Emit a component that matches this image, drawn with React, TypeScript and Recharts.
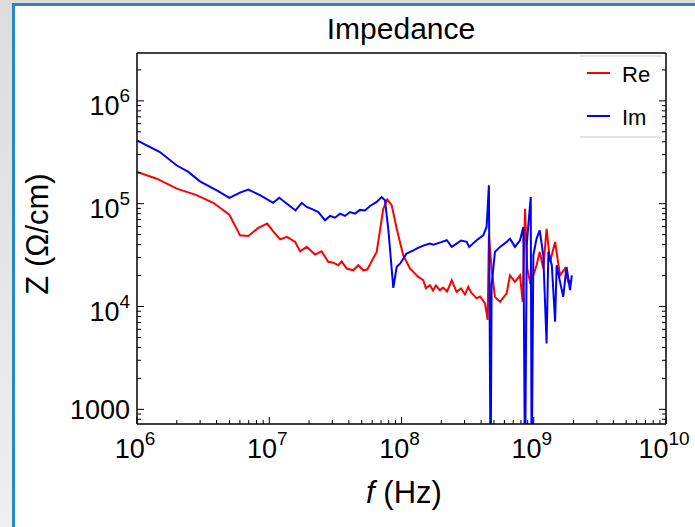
import React from 'react';
import { LineChart, Line, XAxis, YAxis } from 'recharts';

// frequency (Hz) and impedance (Ohm/cm)
const reFreq = [
  1e6, 1.41e6, 2.0e6, 2.82e6, 3.77e6, 4.99e6, 6.01e6, 6.95e6, 8.26e6, 9.66e6,
  1.07e7, 1.21e7, 1.36e7, 1.57e7, 1.71e7, 1.92e7, 2.22e7, 2.49e7, 2.79e7, 3.05e7,
  3.33e7, 3.53e7, 3.85e7, 4.32e7, 4.71e7, 5.14e7, 5.51e7, 6.49e7, 7.28e7, 7.81e7,
  8.44e7, 9.2e7, 1.03e8, 1.16e8, 1.23e8, 1.33e8, 1.46e8, 1.53e8, 1.64e8, 1.73e8,
  1.82e8, 1.95e8, 2.06e8, 2.21e8, 2.4e8, 2.61e8, 2.82e8, 3.02e8, 3.2e8, 3.36e8,
  3.7e8, 3.93e8, 4.28e8, 4.48e8, 4.58e8, 4.8e8, 5.09e8, 5.56e8, 6.24e8, 6.61e8,
  7.21e8, 7.87e8, 8.25e8, 8.59e8, 8.93e8, 9.37e8, 9.93e8, 1.05e9, 1.11e9, 1.18e9,
  1.25e9, 1.33e9, 1.45e9, 1.58e9, 1.72e9, 1.82e9, 1.94e9,
];
const reZ = [
  2.03e5, 1.75e5, 1.4e5, 1.21e5, 1.02e5, 7.8e4, 4.92e4, 4.85e4, 5.81e4, 6.4e4,
  5.38e4, 4.5e4, 4.75e4, 4.25e4, 3.44e4, 3.8e4, 3.2e4, 3.44e4, 2.72e4, 2.67e4,
  2.52e4, 2.75e4, 2.34e4, 2.25e4, 2.52e4, 2.25e4, 2.29e4, 3.4e4, 8.93e4, 1.1e5,
  9.6e4, 5.7e4, 3.15e4, 2.34e4, 2.17e4, 1.95e4, 1.8e4, 1.5e4, 1.61e4, 1.43e4,
  1.6e4, 1.44e4, 1.53e4, 1.4e4, 1.8e4, 1.39e4, 1.5e4, 1.31e4, 1.55e4, 1.37e4,
  1.2e4, 1.25e4, 1.07e4, 7.4e3, 4.92e4, 2.34e4, 1.24e4, 1.11e4, 1.34e4, 2.01e4,
  1.74e4, 2.01e4, 1.11e4, 8.93e4, 2.34e4, 1.74e4, 2.01e4, 2.52e4, 3.4e4, 2.34e4,
  5.7e4, 2.72e4, 4.25e4, 2.01e4, 2.34e4, 1.74e4, 1.8e4,
];

const imFreq = [
  1e6, 1.49e6, 2.0e6, 2.43e6, 2.99e6, 4.01e6, 4.99e6, 6.01e6, 6.95e6, 8.51e6,
  1.07e7, 1.19e7, 1.36e7, 1.58e7, 1.76e7, 1.92e7, 2.09e7, 2.35e7, 2.64e7, 2.88e7,
  3.14e7, 3.43e7, 3.74e7, 4.08e7, 4.45e7, 4.85e7, 5.29e7, 5.78e7, 6.49e7, 7.08e7,
  7.5e7, 7.94e7, 8.67e7, 9.2e7, 9.75e7, 1.09e8, 1.22e8, 1.3e8, 1.46e8, 1.64e8,
  1.74e8, 1.95e8, 2.2e8, 2.4e8, 2.61e8, 2.82e8, 3.11e8, 3.25e8, 3.7e8, 4.15e8,
  4.4e8, 4.58e8, 4.67e8, 4.72e8, 4.8e8, 5.09e8, 5.56e8, 6.24e8, 6.61e8, 7.21e8,
  7.87e8, 8.34e8, 8.59e8, 8.85e8, 9.1e8, 9.49e8, 9.64e8, 9.93e8, 1.05e9, 1.11e9,
  1.18e9, 1.25e9, 1.29e9, 1.37e9, 1.45e9, 1.49e9, 1.58e9, 1.67e9, 1.77e9, 1.88e9,
  1.94e9,
];
const imZ = [
  4.12e5, 3.18e5, 2.35e5, 2.05e5, 1.65e5, 1.35e5, 1.14e5, 1.28e5, 1.37e5, 1.21e5,
  1.02e5, 1.14e5, 1.0e5, 8.6e4, 1.02e5, 9.3e4, 8.9e4, 8.3e4, 6.9e4, 7.6e4,
  7.3e4, 8.0e4, 7.6e4, 8.3e4, 8.0e4, 8.7e4, 8.6e4, 9.5e4, 1.04e5, 1.16e5,
  1.08e5, 5.7e4, 1.52e4, 2.43e4, 2.61e4, 3.27e4, 3.5e4, 3.66e4, 3.91e4, 4.09e4,
  4.0e4, 4.18e4, 4.41e4, 3.8e4, 4.09e4, 4.38e4, 4.25e4, 3.8e4, 4.41e4, 4.92e4,
  5.94e4, 1.51e5, 1.86e3, 200, 1.61e4, 3.4e4, 3.8e4, 4.25e4, 4.57e4, 3.8e4,
  4.41e4, 5.94e4, 200, 3.94e4, 6.15e4, 1.16e5, 200, 3.15e4, 4.57e4, 5.51e4,
  3.15e4, 4.37e3, 3.4e4, 2.52e4, 7.1e3, 2.52e4, 1.74e4, 1.24e4, 2.43e4, 1.44e4,
  2.01e4,
];

const xDomain = [1e6, 1e10];
const yDomain = [720, 2.92e6];

const mantissas = [1, 2, 3, 4, 5, 6, 7, 8, 9];
const logTicks = (dom: number[]) => {
  const out: number[] = [];
  for (let e = -1 + Math.floor(Math.log10(dom[0])); e <= Math.ceil(Math.log10(dom[1])); e++) {
    mantissas.forEach((m) => {
      const v = m * Math.pow(10, e);
      if (v >= dom[0] * 0.9999 && v <= dom[1] * 1.0001) out.push(v);
    });
  }
  return out;
};
const xTicks = logTicks(xDomain);
const yTicks = logTicks(yDomain);

const reData = reFreq.map((f, i) => ({ f, z: reZ[i] }));
const imData = imFreq.map((f, i) => ({ f, z: imZ[i] }));

const FONT = '"Liberation Sans", Arial, Helvetica, sans-serif';
const isMajor = (v: number) => Math.abs(Math.log10(v) - Math.round(Math.log10(v))) < 1e-6;
const expOf = (v: number) => Math.round(Math.log10(v));
const MAJ = 7;
const MIN = 4;

function PowerLabel({ x, y, v, anchor }: any) {
  if (v === 1000) {
    return (
      <text x={x} y={y} textAnchor={anchor} fontSize={27} fontFamily={FONT} fill="#000">1000</text>
    );
  }
  return (
    <text x={x} y={y} textAnchor={anchor} fontSize={27} fontFamily={FONT} fill="#000">
      <tspan>10</tspan>
      <tspan dy={-13} fontSize={19}>{expOf(v)}</tspan>
    </text>
  );
}

function BottomTick({ x, y, payload }: any) {
  const v = payload.value;
  const major = isMajor(v);
  return (
    <g>
      <line x1={x} x2={x} y1={y} y2={y - (major ? MAJ : MIN)} stroke="#000" strokeWidth={1} />
      {major && <PowerLabel x={x - 2} y={y + 34} v={v} anchor="middle" />}
    </g>
  );
}

function TopTick({ x, y, payload }: any) {
  const major = isMajor(payload.value);
  return <line x1={x} x2={x} y1={y} y2={y + (major ? MAJ : MIN)} stroke="#000" strokeWidth={1} />;
}

function LeftTick({ x, y, payload }: any) {
  const v = payload.value;
  const major = isMajor(v);
  return (
    <g>
      <line x1={x} x2={x + (major ? MAJ : MIN)} y1={y} y2={y} stroke="#000" strokeWidth={1} />
      {major && <PowerLabel x={x - 7} y={y + (v === 1000 ? 10 : 14)} v={v} anchor="end" />}
    </g>
  );
}

function RightTick({ x, y, payload }: any) {
  const major = isMajor(payload.value);
  return <line x1={x} x2={x - (major ? MAJ : MIN)} y1={y} y2={y} stroke="#000" strokeWidth={1} />;
}

const axisLine = { stroke: '#000', strokeWidth: 1.5 };

export default function App() {
  return (
    <div
      style={{
        position: 'absolute',
        left: 0,
        top: 0,
        width: 695,
        height: 527,
        overflow: 'hidden',
        background: 'linear-gradient(#dcdcdc, #efefef)',
        fontFamily: FONT,
      }}
    >
      <div
        style={{
          position: 'absolute',
          left: 12,
          top: 3,
          width: 700,
          height: 540,
          background: '#fff',
          borderLeft: '3px solid #2a85cd',
          borderTop: '3px solid #2a85cd',
          boxSizing: 'border-box',
        }}
      />
      <div style={{ position: 'absolute', left: 0, top: 0 }}>
        <LineChart width={695} height={527} margin={{ top: 52, right: 28, bottom: 102, left: 136 }}>
          <XAxis
            xAxisId="b"
            dataKey="f"
            type="number"
            scale="log"
            domain={xDomain}
            allowDataOverflow
            ticks={xTicks}
            interval={0}
            height={1}
            tickSize={0}
            tickMargin={0}
            tickLine={false}
            axisLine={axisLine}
            tick={<BottomTick />}
          />
          <XAxis
            xAxisId="t"
            orientation="top"
            type="number"
            scale="log"
            domain={xDomain}
            allowDataOverflow
            ticks={xTicks}
            interval={0}
            height={1}
            tickSize={0}
            tickMargin={0}
            tickLine={false}
            axisLine={axisLine}
            tick={<TopTick />}
          />
          <YAxis
            yAxisId="l"
            type="number"
            scale="log"
            domain={yDomain}
            allowDataOverflow
            ticks={yTicks}
            interval={0}
            width={1}
            tickSize={0}
            tickMargin={0}
            tickLine={false}
            axisLine={axisLine}
            tick={<LeftTick />}
          />
          <YAxis
            yAxisId="r"
            orientation="right"
            type="number"
            scale="log"
            domain={yDomain}
            allowDataOverflow
            ticks={yTicks}
            interval={0}
            width={1}
            tickSize={0}
            tickMargin={0}
            tickLine={false}
            axisLine={axisLine}
            tick={<RightTick />}
          />
          <Line
            xAxisId="b"
            yAxisId="l"
            data={reData}
            dataKey="z"
            name="Re"
            type="linear"
            stroke="#ff0000"
            strokeWidth={2}
            dot={false}
            isAnimationActive={false}
          />
          <Line
            xAxisId="b"
            yAxisId="l"
            data={imData}
            dataKey="z"
            name="Im"
            type="linear"
            stroke="#0000ff"
            strokeWidth={2}
            dot={false}
            isAnimationActive={false}
          />
        </LineChart>
      </div>
      <svg width={695} height={527} style={{ position: 'absolute', left: 0, top: 0, pointerEvents: 'none' }}>
        <text x={401} y={39} textAnchor="middle" fontSize={30} fontFamily={FONT} fill="#000">Impedance</text>
        <text x={404} y={503} textAnchor="middle" fontSize={31} fontFamily={FONT} fill="#000">
          <tspan fontStyle="italic">f</tspan>
          <tspan> (Hz)</tspan>
        </text>
        <text
          transform="translate(48,234) rotate(-90)"
          textAnchor="middle"
          fontSize={31}
          fontFamily={FONT}
          fill="#000"
        >
          Z (Ω/cm)
        </text>
        <line x1={580} x2={662} y1={56} y2={56} stroke="#dddddd" strokeWidth={1.5} />
        <line x1={580} x2={662} y1={137} y2={137} stroke="#dddddd" strokeWidth={1.5} />
        <line x1={587} x2={610} y1={73} y2={73} stroke="#ff0000" strokeWidth={2} />
        <text x={622} y={82} fontSize={22} fontFamily={FONT} fill="#000">Re</text>
        <line x1={587} x2={610} y1={116} y2={116} stroke="#0000ff" strokeWidth={2} />
        <text x={622} y={125} fontSize={22} fontFamily={FONT} fill="#000">Im</text>
      </svg>
    </div>
  );
}
